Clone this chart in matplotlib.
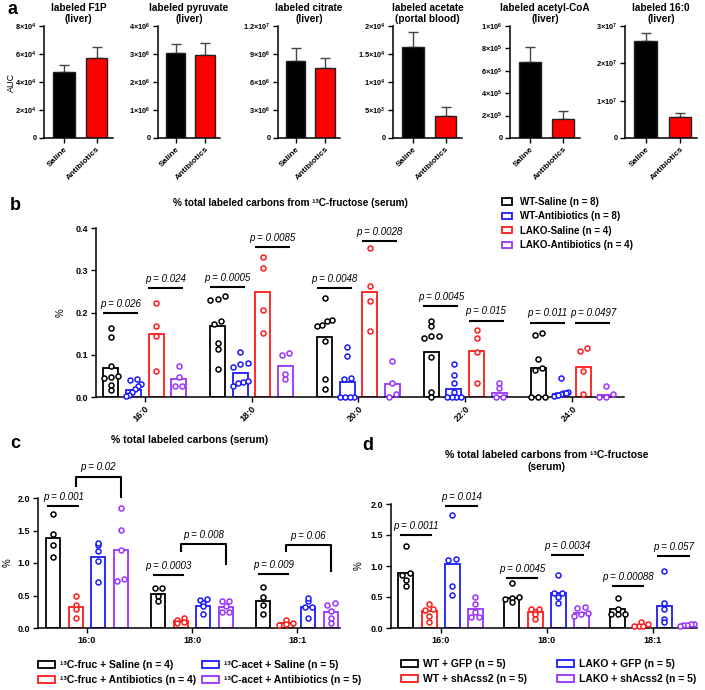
import numpy as np
import matplotlib.pyplot as plt
from matplotlib.patches import Rectangle

plt.rcParams['font.family'] = ['Liberation Sans', 'DejaVu Sans']
plt.rcParams['font.weight'] = 'bold'
plt.rcParams['mathtext.fontset'] = 'custom'
plt.rcParams['mathtext.rm'] = 'Liberation Sans:bold'
plt.rcParams['mathtext.bf'] = 'Liberation Sans:bold'
plt.rcParams['axes.linewidth'] = 1.1
plt.rcParams['xtick.major.width'] = 1.0
plt.rcParams['ytick.major.width'] = 1.0

W, H = 705, 690
fig = plt.figure(figsize=(W / 100, H / 100), dpi=100)


def box(x0, x1, ytop, ybot):
    # pixel box -> figure fraction
    return [x0 / W, 1 - ybot / H, (x1 - x0) / W, (ybot - ytop) / H]


BLACK, RED, BLUE, PURPLE = 'black', '#ff1a1a', '#1a1aff', '#9933ff'

# ---------------- panel a data ----------------
a_titles = ['labeled F1P\n(liver)', 'labeled pyruvate\n(liver)', 'labeled citrate\n(liver)',
            'labeled acetate\n(portal blood)', 'labeled acetyl-CoA\n(liver)', 'labeled 16:0\n(liver)']
a_groups = ['Saline', 'Antibiotics']
a_mean = [[4.7e4, 5.75e4], [3.05e6, 2.97e6], [8.3e6, 7.45e6],
          [1.63e4, 4.0e3], [6.75e5, 1.72e5], [2.6e7, 5.5e6]]
a_err = [[0.55e4, 0.75e4], [0.30e6, 0.41e6], [1.3e6, 1.1e6],
         [0.27e4, 1.6e3], [1.35e5, 0.70e5], [0.20e7, 1.3e6]]
a_ticks = [[0, 2e4, 4e4, 6e4, 8e4], [0, 1e6, 2e6, 3e6, 4e6], [0, 3e6, 6e6, 9e6, 1.2e7],
           [0, 5e3, 1e4, 1.5e4, 2e4], [0, 2e5, 4e5, 6e5, 8e5, 1e6], [0, 1e7, 2e7, 3e7]]
a_ticklabels = [['0', r'$2{\times}10^{4}$', r'$4{\times}10^{4}$', r'$6{\times}10^{4}$', r'$8{\times}10^{4}$'],
                ['0', r'$1{\times}10^{6}$', r'$2{\times}10^{6}$', r'$3{\times}10^{6}$', r'$4{\times}10^{6}$'],
                ['0', r'$3{\times}10^{6}$', r'$6{\times}10^{6}$', r'$9{\times}10^{6}$', r'$1.2{\times}10^{7}$'],
                ['0', r'$5{\times}10^{3}$', r'$1{\times}10^{4}$', r'$1.5{\times}10^{4}$', r'$2{\times}10^{4}$'],
                ['0', r'$2{\times}10^{5}$', r'$4{\times}10^{5}$', r'$6{\times}10^{5}$', r'$8{\times}10^{5}$',
                 r'$1{\times}10^{6}$'],
                ['0', r'$1{\times}10^{7}$', r'$2{\times}10^{7}$', r'$3{\times}10^{7}$']]

# ---------------- panel b data ----------------
b_groups = ['16:0', '18:0', '20:0', '22:0', '24:0']
b_series = ['WT-Saline (n = 8)', 'WT-Antibiotics (n = 8)', 'LAKO-Saline (n = 4)', 'LAKO-Antibiotics (n = 4)']
b_bar_wt_sal = [0.069, 0.168, 0.141, 0.107, 0.069]
b_bar_wt_abx = [0.017, 0.056, 0.036, 0.018, 0.007]
b_bar_ko_sal = [0.148, 0.248, 0.249, 0.109, 0.072]
b_bar_ko_abx = [0.042, 0.074, 0.031, 0.010, 0.005]
b_pts_wt_sal = [[0.163, 0.142, 0.074, 0.050, 0.047, 0.045, 0.028, 0.017],
                [0.239, 0.229, 0.233, 0.180, 0.172, 0.128, 0.113, 0.066],
                [0.234, 0.183, 0.180, 0.170, 0.168, 0.133, 0.043, 0.018],
                [0.180, 0.168, 0.145, 0.140, 0.145, 0.095, 0.011, 0.0],
                [0.152, 0.146, 0.089, 0.068, 0.063, 0.0, 0.0, 0.0]]
b_pts_wt_abx = [[0.043, 0.041, 0.030, 0.027, 0.018, 0.012, 0.005, 0.002],
                [0.106, 0.080, 0.077, 0.072, 0.038, 0.035, 0.032, 0.027],
                [0.118, 0.096, 0.045, 0.042, 0.0, 0.0, 0.0, 0.0],
                [0.077, 0.051, 0.032, 0.012, 0.0, 0.0, 0.0, 0.0],
                [0.045, 0.013, 0.009, 0.006, 0.004, 0.002, 0.004, 0.009]]
b_pts_ko_sal = [[0.223, 0.168, 0.144, 0.061],
                [0.331, 0.306, 0.206, 0.152],
                [0.353, 0.263, 0.228, 0.157],
                [0.158, 0.139, 0.107, 0.032],
                [0.116, 0.109, 0.062, 0.006]]
b_pts_ko_abx = [[0.074, 0.048, 0.027, 0.027],
                [0.100, 0.105, 0.054, 0.042],
                [0.086, 0.032, 0.008, 0.0],
                [0.034, 0.022, 0.0, 0.0],
                [0.025, 0.008, 0.0, 0.0]]
b_p_wt = ['p = 0.026', 'p = 0.0005', 'p = 0.0048', 'p = 0.0045', 'p = 0.011']
b_p_ko = ['p = 0.024', 'p = 0.0085', 'p = 0.0028', 'p = 0.015', 'p = 0.0497']
b_line_wt = [0.198, 0.261, 0.257, 0.216, 0.176]
b_line_ko = [0.258, 0.355, 0.370, 0.181, 0.176]

# ---------------- panel c data ----------------
c_groups = ['16:0', '18:0', '18:1']
c_series = ['¹³C-fruc + Saline (n = 4)', '¹³C-fruc + Antibiotics (n = 4)',
            '¹³C-acet + Saline (n = 5)', '¹³C-acet + Antibiotics (n = 5)']
c_bar_fruc_sal = [1.38, 0.52, 0.41]
c_bar_fruc_abx = [0.32, 0.11, 0.08]
c_bar_acet_sal = [1.09, 0.34, 0.32]
c_bar_acet_abx = [1.20, 0.32, 0.24]
c_pts_fruc_sal = [[1.76, 1.44, 1.27, 1.10], [0.61, 0.62, 0.49, 0.42], [0.63, 0.47, 0.36, 0.22]]
c_pts_fruc_abx = [[0.49, 0.36, 0.29, 0.16], [0.13, 0.15, 0.09, 0.07], [0.13, 0.07, 0.05, 0.06]]
c_pts_acet_sal = [[1.28, 1.31, 1.18, 1.03, 0.71], [0.43, 0.44, 0.38, 0.34, 0.21], [0.41, 0.46, 0.33, 0.32, 0.16]]
c_pts_acet_abx = [[1.84, 1.51, 1.20, 0.75, 0.73], [0.42, 0.42, 0.34, 0.24, 0.24], [0.36, 0.38, 0.26, 0.16, 0.07]]
c_p_line = ['p = 0.001', 'p = 0.0003', 'p = 0.009']
c_line_y = [1.87, 0.82, 0.83]
c_p_brk = ['p = 0.02', 'p = 0.008', 'p = 0.06']
c_brk_top = [2.33, 1.29, 1.27]
c_brk_left = [2.19, 1.19, 1.18]
c_brk_right = [2.02, 0.98, 0.87]

# ---------------- panel d data ----------------
d_series = ['WT + GFP (n = 5)', 'WT + shAcss2 (n = 5)', 'LAKO + GFP (n = 5)', 'LAKO + shAcss2 (n = 5)']
d_bar_wt_gfp = [0.88, 0.49, 0.30]
d_bar_wt_sh = [0.28, 0.26, 0.05]
d_bar_ko_gfp = [1.03, 0.57, 0.36]
d_bar_ko_sh = [0.30, 0.24, 0.05]
d_pts_wt_gfp = [[1.32, 0.88, 0.86, 0.78, 0.67], [0.72, 0.50, 0.49, 0.46, 0.42], [0.48, 0.31, 0.23, 0.23, 0.22]]
d_pts_wt_sh = [[0.39, 0.31, 0.29, 0.19, 0.10], [0.31, 0.30, 0.26, 0.22, 0.15], [0.09, 0.06, 0.04, 0.04, 0.04]]
d_pts_ko_gfp = [[1.82, 1.12, 1.10, 0.68, 0.53], [0.86, 0.57, 0.56, 0.50, 0.40], [0.92, 0.40, 0.30, 0.15, 0.09]]
d_pts_ko_sh = [[0.50, 0.38, 0.26, 0.18, 0.18], [0.34, 0.32, 0.24, 0.22, 0.20], [0.07, 0.06, 0.05, 0.05, 0.04]]
d_p_wt = ['p = 0.0011', 'p = 0.0045', 'p = 0.00088']
d_line_wt = [1.50, 0.81, 0.67]
d_p_ko = ['p = 0.014', 'p = 0.0034', 'p = 0.057']
d_line_ko = [1.96, 1.18, 1.16]


def swarm(vals, span, half=0.32):
    vals = np.asarray(vals, float)
    order = np.argsort(vals)
    offs = np.zeros(len(vals))
    clusters, cur = [], [order[0]]
    for i in order[1:]:
        if vals[i] - vals[cur[-1]] < span:
            cur.append(i)
        else:
            clusters.append(cur)
            cur = [i]
    clusters.append(cur)
    for c in clusters:
        k = len(c)
        if k > 1:
            w = min(half, 0.16 * (k - 1))
            offs[c] = np.linspace(-w, w, k)
    return offs


def style_axis(ax, fs):
    for s in ['top', 'right']:
        ax.spines[s].set_visible(False)
    ax.tick_params(axis='both', labelsize=fs, length=3.5, pad=2)


def scatter_bar_panel(ax, bars, pts, colors, gsp, width, span):
    ng = len(bars[0])
    for j, (bv, pv, col) in enumerate(zip(bars, pts, colors)):
        xs = np.arange(ng) * gsp + (j - 1.5)
        ax.bar(xs, bv, width=width, facecolor='white', edgecolor=col, linewidth=1.3, zorder=2)
        for x, vals in zip(xs, pv):
            off = swarm(vals, span)
            ax.scatter(x + off, vals, s=13, facecolor='white', edgecolor=col,
                       linewidth=1.1, zorder=3, clip_on=False)


def pline(ax, x0, x1, y, text, dy=3):
    ax.plot([x0, x1], [y, y], color='black', lw=1.5, clip_on=False, solid_capstyle='butt')
    ax.annotate(text, ((x0 + x1) / 2, y), xytext=(0, dy), textcoords='offset points',
                ha='center', va='bottom', fontsize=7, fontstyle='italic', fontweight='normal',
                annotation_clip=False)


# ---------------- panel a ----------------
a_boxes = [(44, 113), (158, 220), (278, 340), (393, 462), (510, 580), (625, 697)]
for i, (x0, x1) in enumerate(a_boxes):
    ax = fig.add_axes(box(x0, x1, 26, 138))
    ax.bar([0, 1], a_mean[i], width=0.66, color=[BLACK, '#ff0000'], edgecolor='#222222',
           linewidth=1.0, zorder=2)
    ax.errorbar([0, 1], a_mean[i], yerr=[[0, 0], a_err[i]], fmt='none', ecolor='#444444',
                elinewidth=1.0, capsize=3.5, capthick=1.0, zorder=1)
    ax.set_xlim(-0.6, 1.5)
    ax.set_ylim(0, a_ticks[i][-1])
    ax.set_yticks(a_ticks[i])
    ax.set_yticklabels(a_ticklabels[i])
    ax.set_xticks([0, 1])
    ax.set_xticklabels(a_groups, rotation=45, ha='right', rotation_mode='anchor')
    style_axis(ax, 5.3)
    ax.tick_params(axis='x', labelsize=6)
    ax.set_title(a_titles[i], fontsize=7.2, fontweight='bold', pad=3, linespacing=1.05)
    if i == 0:
        ax.set_ylabel('AUC', fontsize=6.5)
        ax.yaxis.set_label_coords((16 - x0) / (x1 - x0), 0.5)

# ---------------- panel b ----------------
G_b = 4.73
axb = fig.add_axes(box(96, 624, 228, 397))
b_colors = [BLACK, BLUE, RED, PURPLE]
scatter_bar_panel(axb, [b_bar_wt_sal, b_bar_wt_abx, b_bar_ko_sal, b_bar_ko_abx],
                  [b_pts_wt_sal, b_pts_wt_abx, b_pts_ko_sal, b_pts_ko_abx], b_colors, G_b, 0.66, 0.011)
axb.set_xlim(-1.5 - 0.66, 4 * G_b + 1.5 + 0.8)
axb.set_ylim(0, 0.4)
axb.set_yticks([0, 0.1, 0.2, 0.3, 0.4])
axb.set_yticklabels(['0.0', '0.1', '0.2', '0.3', '0.4'])
axb.set_xticks(np.arange(len(b_groups)) * G_b)
axb.set_xticklabels(b_groups, rotation=45, ha='right', rotation_mode='anchor')
style_axis(axb, 6.5)
axb.set_ylabel('%', fontsize=7)
axb.yaxis.set_label_coords((66 - 96) / 528, 0.5)
for g in range(len(b_groups)):
    c = g * G_b
    pline(axb, c - 1.5 - 0.35, c - 0.5 + 0.2, b_line_wt[g], b_p_wt[g])
    pline(axb, c + 0.5 - 0.35, c + 1.5 + 0.2, b_line_ko[g], b_p_ko[g])
fig.text(290 / W, 1 - 203 / H, '% total labeled carbons from ¹³C-fructose (serum)',
         ha='center', va='center', fontsize=7.2, fontweight='bold')
hb = [Rectangle((0, 0), 1, 1, facecolor='white', edgecolor=c, linewidth=1.3) for c in b_colors]
fig.legend(hb, b_series, loc='upper left', bbox_to_anchor=(502 / W, 1 - 197 / H), frameon=False,
           fontsize=7, handlelength=1.0, handleheight=0.6, handletextpad=0.9, labelspacing=0.45,
           borderaxespad=0, borderpad=0)

# ---------------- panel c ----------------
G_c = 4.67
axc = fig.add_axes(box(38, 340, 498, 628))
c_colors = [BLACK, RED, BLUE, PURPLE]
scatter_bar_panel(axc, [c_bar_fruc_sal, c_bar_fruc_abx, c_bar_acet_sal, c_bar_acet_abx],
                  [c_pts_fruc_sal, c_pts_fruc_abx, c_pts_acet_sal, c_pts_acet_abx], c_colors, G_c, 0.62, 0.03)
axc.set_xlim(-1.5 - 0.67, 2 * G_c + 1.5 + 0.4)
axc.set_ylim(0, 2.0)
axc.set_yticks([0, 0.5, 1.0, 1.5, 2.0])
axc.set_yticklabels(['0.0', '0.5', '1.0', '1.5', '2.0'])
axc.set_xticks(np.arange(len(c_groups)) * G_c)
axc.set_xticklabels(c_groups)
style_axis(axc, 6.5)
axc.set_ylabel('%', fontsize=7)
axc.yaxis.set_label_coords((13 - 38) / 302, 0.5)
for g in range(len(c_groups)):
    c = g * G_c
    pline(axc, c - 1.5 - 0.25, c - 0.5 + 0.15, c_line_y[g], c_p_line[g])
    xl, xr = c - 0.5, c + 1.5
    axc.plot([xl, xl, xr, xr], [c_brk_left[g], c_brk_top[g], c_brk_top[g], c_brk_right[g]],
             color='black', lw=1.5, clip_on=False)
    axc.annotate(c_p_brk[g], ((xl + xr) / 2, c_brk_top[g]), xytext=(0, 3), textcoords='offset points',
                 ha='center', va='bottom', fontsize=7, fontstyle='italic', fontweight='normal',
                 annotation_clip=False)
fig.text(190 / W, 1 - 440 / H, '% total labeled carbons (serum)', ha='center', va='center',
         fontsize=7.5, fontweight='bold')
hc = [Rectangle((0, 0), 1, 1, facecolor='white', edgecolor=c, linewidth=1.3) for c in c_colors]
fig.legend(hc, c_series, loc='upper left', ncol=2, bbox_to_anchor=(38 / W, 1 - 660 / H), frameon=False,
           fontsize=7.5, handlelength=1.6, handleheight=0.7, handletextpad=0.5, labelspacing=0.5,
           columnspacing=0.6, borderaxespad=0, borderpad=0)

# ---------------- panel d ----------------
G_d = 4.6
axd = fig.add_axes(box(391, 697, 504, 628))
scatter_bar_panel(axd, [d_bar_wt_gfp, d_bar_wt_sh, d_bar_ko_gfp, d_bar_ko_sh],
                  [d_pts_wt_gfp, d_pts_wt_sh, d_pts_ko_gfp, d_pts_ko_sh], c_colors, G_d, 0.65, 0.03)
axd.set_xlim(-1.5 - 0.65, 2 * G_d + 1.5 + 0.43)
axd.set_ylim(0, 2.0)
axd.set_yticks([0, 0.5, 1.0, 1.5, 2.0])
axd.set_yticklabels(['0.0', '0.5', '1.0', '1.5', '2.0'])
axd.set_xticks(np.arange(len(c_groups)) * G_d)
axd.set_xticklabels(c_groups)
style_axis(axd, 6.5)
axd.set_ylabel('%', fontsize=7)
axd.yaxis.set_label_coords((364 - 391) / 306, 0.5)
for g in range(len(c_groups)):
    c = g * G_d
    pline(axd, c - 1.5 - 0.28, c - 0.5 + 0.15, d_line_wt[g], d_p_wt[g])
    pline(axd, c + 0.5 - 0.3, c + 1.5 + 0.12, d_line_ko[g], d_p_ko[g])
fig.text(547 / W, 1 - 461 / H, '% total labeled carbons from ¹³C-fructose\n(serum)', ha='center',
         va='center', fontsize=7.5, fontweight='bold', linespacing=1.25)
fig.legend(hc, d_series, loc='upper left', ncol=2, bbox_to_anchor=(401 / W, 1 - 659 / H), frameon=False,
           fontsize=7.5, handlelength=1.6, handleheight=0.7, handletextpad=0.5, labelspacing=0.5,
           columnspacing=2.9, borderaxespad=0, borderpad=0)

# panel letters
for letter, x, y in [('a', 8, 10), ('b', 10, 206), ('c', 10, 444), ('d', 362, 445)]:
    fig.text(x / W, 1 - y / H, letter, fontsize=13, fontweight='bold', ha='left', va='center')

fig.savefig('out.png', dpi=100)
